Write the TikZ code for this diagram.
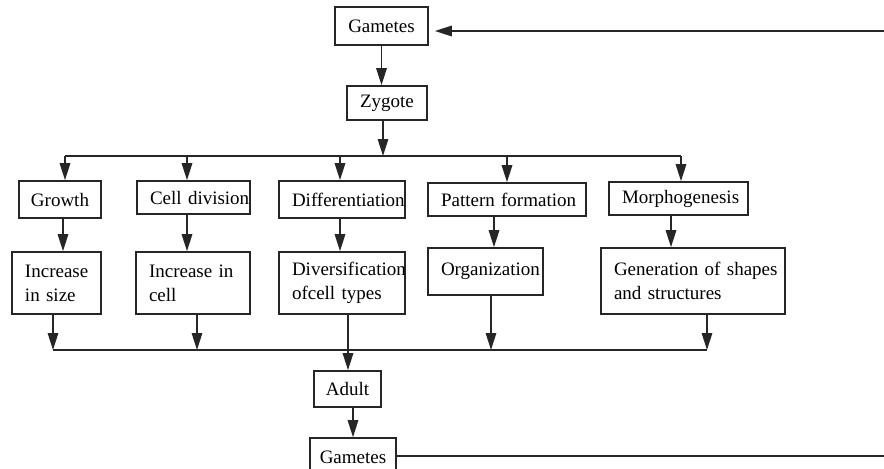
\documentclass[tikz,border=0pt]{standalone}
\usepackage{fontspec}
\setmainfont{Liberation Serif}
\usetikzlibrary{arrows.meta,calc}

\begin{document}
\begin{tikzpicture}[x=0.5pt, y=-0.5pt,
  box/.style={draw=black!85, line width=0.8pt, font=\fontsize{9.5}{12}\selectfont,
              inner sep=0pt, align=center},
  lbox/.style={box, align=left, inner xsep=6.5pt},
  ln/.style={line width=0.9pt, draw=black!85},
  arr/.style={ln, -{Triangle[length=8.5pt,width=5.2pt]}}]
  \useasboundingbox (0,0) rectangle (884,468);
  \node[box, minimum width=46.5pt, minimum height=19pt] (gamt) at (381.5,26) {Gametes};
  \node[box, minimum width=40pt, minimum height=17pt] (zyg) at (387,103) {Zygote};
  \node[box, minimum width=41pt, minimum height=18.5pt] (grow) at (60,199.5) {Growth};
  \node[lbox, text width=43.5pt, minimum height=16.5pt] (cdiv) at (193.5,197.5) {\mbox{Cell division}};
  \node[lbox, text width=50pt, minimum height=18.5pt] (diff) at (342,199.5) {\mbox{Differentiation}};
  \node[lbox, text width=66pt, minimum height=16.5pt] (patt) at (507,199.5) {\mbox{Pattern formation}};
  \node[lbox, text width=56.5pt, minimum height=16.5pt] (morph) at (678.5,198.5) {\mbox{Morphogenesis}};
  \node[lbox, text width=31.5pt, minimum height=31pt] (incs) at (56.5,283) {Increase\\in size};
  \node[lbox, text width=44pt, minimum height=31pt] (incc) at (193,283) {Increase in\\cell};
  \node[lbox, text width=50pt, minimum height=31pt] (divs) at (342,283) {\mbox{Diversification}\\ofcell types};
  \node[lbox, text width=44.5pt, minimum height=23.5pt] (org) at (485.5,271.5) {\mbox{Organization}};
  \node[lbox, text width=79pt, minimum height=33pt] (gen) at (693,281) {\mbox{Generation of shapes}\\and structures};
  \node[box, minimum width=33.5pt, minimum height=18pt] (adult) at (347.5,389) {Adult};
  \node[box, minimum width=43pt, minimum height=19pt] (gamb) at (353,457) {Gametes};
  \coordinate (split) at (383,156);
  \coordinate (tgrow) at (65,156);
  \coordinate (tcdiv) at (187,156);
  \coordinate (tdiff) at (340,156);
  \coordinate (tpatt) at (507,156);
  \coordinate (tmorph) at (681,156);
  \coordinate (jincs) at (53,350);
  \coordinate (jincc) at (197,350);
  \coordinate (jdivs) at (348,350);
  \coordinate (jorg) at (491,350);
  \coordinate (jgen) at (707,350);
  \coordinate (rtop) at (884,31);
  \coordinate (rbot) at (884,456);
  \draw[arr, shorten >=3pt] (rtop) -- (rtop -| gamt.east);
  \draw[arr] (gamt.south) -- (gamt.south |- zyg.north);
  \draw[arr] (zyg.south -| split) -- (split);
  \draw[ln] (tgrow) -- (tmorph);
  \draw[arr] (tgrow) -- (tgrow |- grow.north);
  \draw[arr] (tcdiv) -- (tcdiv |- cdiv.north);
  \draw[arr] (tdiff) -- (tdiff |- diff.north);
  \draw[arr] (tpatt) -- (tpatt |- patt.north);
  \draw[arr] (tmorph) -- (tmorph |- morph.north);
  \draw[arr] ([xshift=1.5pt]grow.south) -- ([xshift=1.5pt]grow.south |- incs.north);
  \draw[arr] ([xshift=-3.25pt]cdiv.south) -- ([xshift=-3.25pt]cdiv.south |- incc.north);
  \draw[arr] ([xshift=-1pt]diff.south) -- ([xshift=-1pt]diff.south |- divs.north);
  \draw[arr] ([xshift=-6.5pt]patt.south) -- ([xshift=-6.5pt]patt.south |- org.north);
  \draw[arr] ([xshift=-3.75pt]morph.south) -- ([xshift=-3.75pt]morph.south |- gen.north);
  \draw[ln] (jincs) -- (jgen);
  \draw[arr] (incs.south -| jincs) -- (jincs);
  \draw[arr] (incc.south -| jincc) -- (jincc);
  \draw[arr] (org.south -| jorg) -- (jorg);
  \draw[arr] (gen.south -| jgen) -- (jgen);
  \draw[arr] (divs.south -| jdivs) -- (jdivs |- adult.north);
  \draw[arr] (adult.south -| gamb) -- (gamb.north);
  \draw[ln] (gamb.east |- rbot) -- (rbot);
\end{tikzpicture}
\end{document}
